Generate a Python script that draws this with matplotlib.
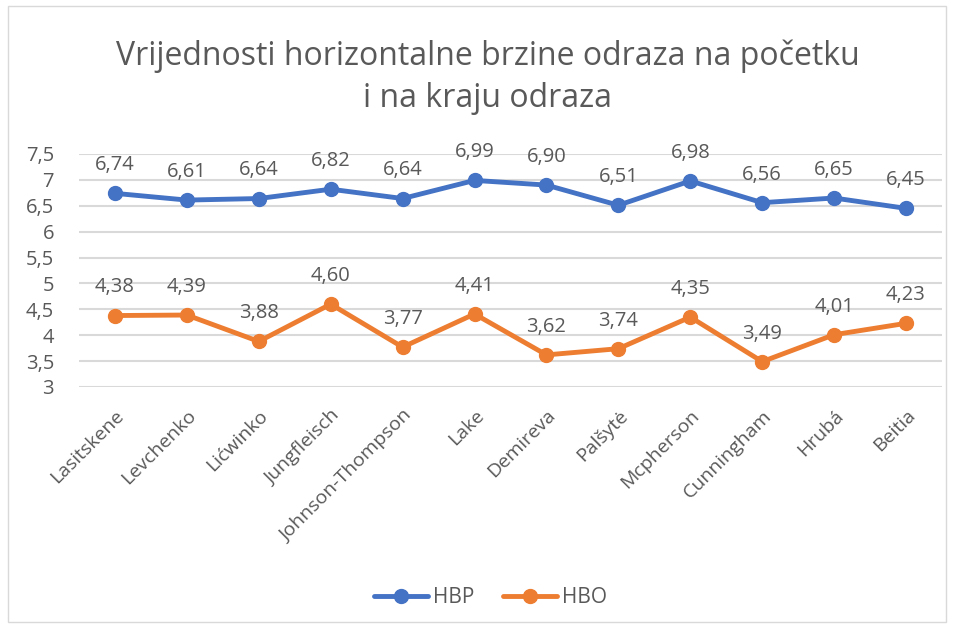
import matplotlib.pyplot as plt
from matplotlib.patches import Rectangle

athletes = ["Lasitskene", "Levchenko", "Lićwinko", "Jungfleisch", "Johnson-Thompson",
            "Lake", "Demireva", "Palšytė", "Mcpherson", "Cunningham", "Hrubá", "Beitia"]
hbp = [6.74, 6.61, 6.64, 6.82, 6.64, 6.99, 6.90, 6.51, 6.98, 6.56, 6.65, 6.45]
hbo = [4.38, 4.39, 3.88, 4.60, 3.77, 4.41, 3.62, 3.74, 4.35, 3.49, 4.01, 4.23]
yticks = [3, 3.5, 4, 4.5, 5, 5.5, 6, 6.5, 7, 7.5]

BLUE = "#4472C4"
ORANGE = "#ED7D31"
TXT = "#595959"
GRID = "#D9D9D9"

plt.rcParams["font.family"] = ["Open Sans", "DejaVu Sans"]

fig = plt.figure(figsize=(9.56, 6.28), dpi=100)
fig.patches.append(Rectangle((8 / 956, 6 / 628), 938 / 956, 616 / 628, transform=fig.transFigure,
                             fill=False, edgecolor="#D9D9D9", linewidth=1))
ax = fig.add_axes([79 / 956, 241 / 628, 863 / 956, 233 / 628])

x = list(range(len(athletes)))
for vals, color, name in [(hbp, BLUE, "HBP"), (hbo, ORANGE, "HBO")]:
    ax.plot(x, vals, color=color, linewidth=3.5, marker="o", markersize=10,
            solid_capstyle="round", label=name, zorder=3)
    for xi, v in zip(x, vals):
        ax.annotate(f"{v:.2f}".replace(".", ","), (xi, v), xytext=(0, 13),
                    textcoords="offset points", ha="center", va="bottom",
                    fontsize=14.5, color=TXT)

ax.set_xlim(-0.5, len(athletes) - 0.5)
ax.set_ylim(3, 7.5)
ax.set_yticks(yticks)
ax.set_yticklabels([f"{t:g}".replace(".", ",") for t in yticks], fontsize=14.5, color=TXT)
ax.set_xticks(x)
ax.set_xticklabels(athletes, rotation=45, ha="right", rotation_mode="anchor",
                   fontsize=14, color=TXT)
ax.tick_params(axis="y", length=0, pad=18)
ax.tick_params(axis="x", length=0, pad=14)
ax.grid(axis="y", color=GRID, linewidth=1.5, zorder=0)
for s in ax.spines.values():
    s.set_visible(False)

fig.text(0.51, 0.877, "Vrijednosti horizontalne brzine odraza na početku\ni na kraju odraza",
         ha="center", va="center", fontsize=23, color=TXT, linespacing=1.35)

fig.legend(loc="center", bbox_to_anchor=(0.513, 0.048), ncol=2, frameon=False,
           fontsize=15, labelcolor=TXT, handlelength=2.6, columnspacing=1.4, handletextpad=0.2)

fig.savefig("out.png", dpi=100)
